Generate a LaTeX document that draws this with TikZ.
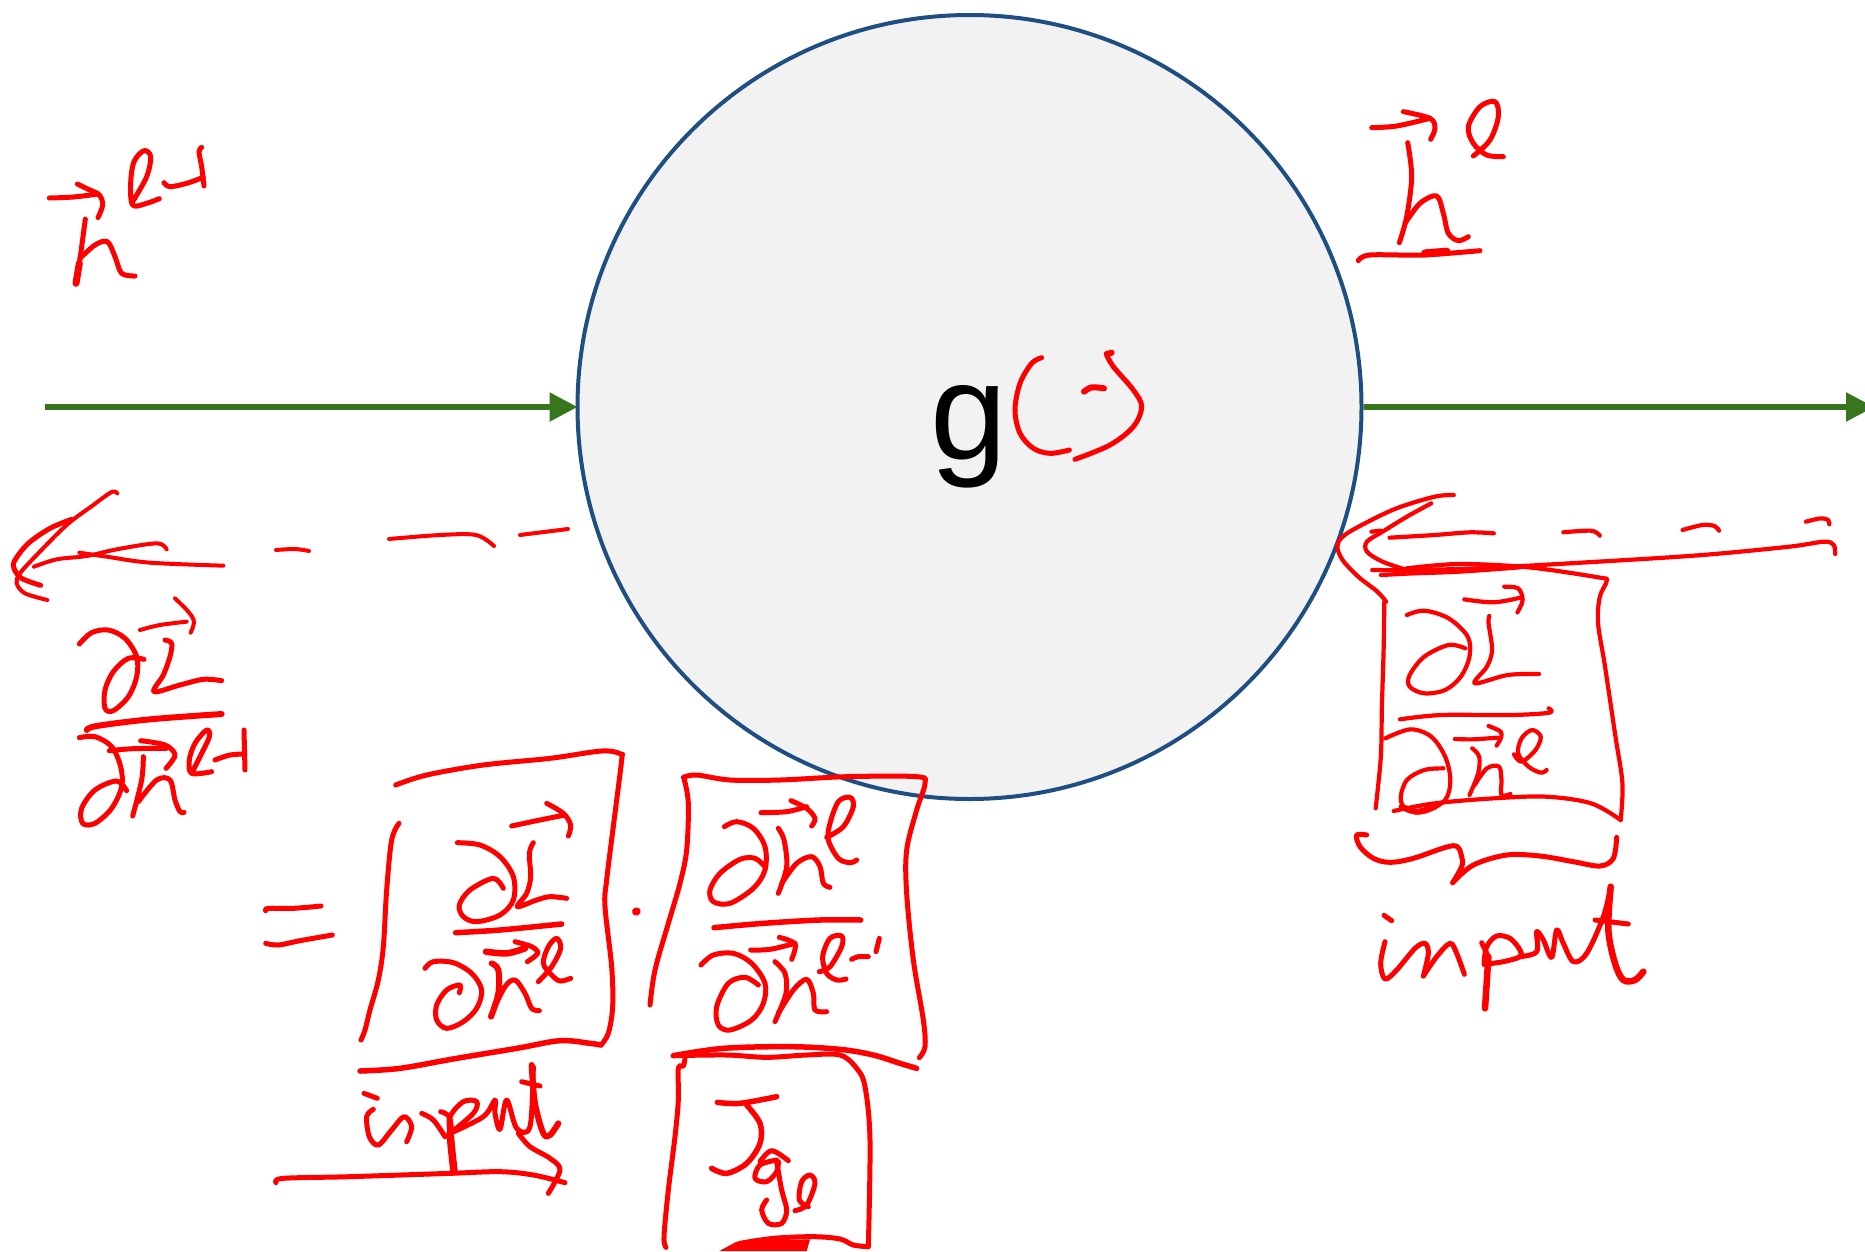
\documentclass[tikz,border=0pt]{standalone}
\usepackage{fontspec}
\setmainfont{Liberation Sans}
\usetikzlibrary{arrows.meta}
\definecolor{ink}{RGB}{255,0,0}
\definecolor{ringblue}{RGB}{31,78,131}
\definecolor{ringfill}{RGB}{242,242,242}
\definecolor{flow}{RGB}{56,118,29}
\tikzset{
  ring/.style={circle,draw=ringblue,fill=ringfill,line width=4pt,minimum size=784pt,inner sep=0pt},
  flowline/.style={draw=flow,line width=5.5pt,-{Triangle[length=28pt,width=28pt]},shorten >=-2pt},
  inkline/.style={draw=ink,line width=5pt,line cap=round,line join=round},
  crop/.style n args={2}{x=.33333pt,y=-.33333pt,xshift=#1pt,yshift=-#2pt}
}
\newcommand\ink[2][]{\draw[inkline,#1] plot[smooth,tension=.55] coordinates {#2};}
\begin{document}
\begin{tikzpicture}[x=1pt,y=-1pt]
\useasboundingbox (0,0) rectangle (1865,1251);
\node[ring] (gate) at (969.5,407) {};
\coordinate (inA) at (45,407);
\coordinate (outB) at (1872,407);
\draw[flowline] (inA) -- (gate.west);
\draw[flowline] (gate.east) -- (outB);
\node[anchor=base,inner sep=0pt,font=\fontsize{138}{138}\selectfont] (gtext) at (969,459) {g};

% h^{l-1}
\begin{scope}[crop={0}{120}]
\ink{(148,234)(220,231)(295,222)}
\ink{(232,192)(265,208)(298,225)(308,255)(294,293)}
\ink{(256,297)(245,380)(238,430)(228,490)}
\ink[line width=7pt]{(238,430)(228,490)}
\ink{(240,415)(285,375)(322,365)(345,410)(365,460)(405,468)}
\ink{(398,245)(440,170)(452,110)(432,92)(402,125)(392,190)(398,255)(440,250)(478,236)}
\ink{(492,188)(510,200)(560,190)(610,172)}
\ink{(605,82)(597,95)(605,140)(612,198)}
\end{scope}

% left dashed back arrow and fraction
\begin{scope}[crop={0}{480}]
\ink[line width=4pt]{(352,40)(335,36)(280,75)(200,135)(110,225)(60,280)(50,310)(75,340)(142,360)}
\ink{(215,118)(150,145)(85,190)(45,240)(42,265)(65,295)(122,316)}
\ink[line width=4pt]{(102,260)(170,238)(260,228)(350,208)(470,190)(500,208)}
\ink[line width=4pt]{(238,218)(320,230)(450,248)(670,257)}
\ink{(238,492)(275,458)(325,450)(375,475)(410,530)(410,590)(385,650)(340,692)(315,685)(315,630)(340,575)(385,535)(432,538)}
\ink[line width=4pt]{(420,450)(480,435)(560,425)}
\ink[line width=4pt]{(525,355)(565,395)(582,425)(572,458)}
\ink{(495,480)(515,490)(510,530)(490,585)(462,635)(540,615)(610,598)(665,602)}
\ink[line width=6pt]{(260,750)(290,738)(450,718)(665,702)}
\ink{(238,773)(285,770)(335,800)(362,860)(365,920)(335,985)(285,1030)(248,1030)(245,985)(285,930)(350,903)(380,932)}
\ink{(328,812)(400,806)(500,805)}
\ink{(422,782)(495,795)(525,825)(498,865)}
\ink{(430,830)(425,900)(398,1008)}
\ink{(415,965)(470,900)(510,900)(525,960)(540,995)(552,997)}
\ink{(575,880)(600,830)(628,770)(620,750)(585,790)(568,840)(575,880)(635,875)}
\ink{(645,840)(690,825)(735,822)}
\ink{(732,750)(735,870)}
\end{scope}
\ink[line width=4pt]{(276,550)(295,549)(309,551)}
\ink[line width=4pt]{(389,539)(440,535)(476,535)(494,546)}
\ink[line width=4pt]{(520,535)(568,529)}

% equals and first box
\begin{scope}[crop={250}{740}]
\ink{(47,512)(55,505)(130,505)(213,498)}
\ink{(47,610)(85,615)(150,602)(247,585)}
\ink{(437,135)(530,105)(700,75)(900,55)(1055,33)(1112,42)(1115,60)(1095,220)(1070,420)(1065,500)(1085,680)(1088,800)(1075,880)(1053,915)}
\ink{(447,250)(425,300)(410,450)(400,620)(385,720)(360,810)(345,870)(333,900)}
\ink{(622,308)(690,315)(750,350)(790,410)(790,480)(750,525)(680,545)(640,530)(628,495)(660,450)(730,415)(760,445)}
\ink{(785,258)(860,242)(945,225)}
\ink{(890,190)(940,220)(962,255)(955,288)}
\ink{(850,308)(838,340)(842,410)(830,460)(802,500)(860,480)(900,470)(950,475)}
\ink[line width=5.5pt]{(617,578)(750,570)(935,552)}
\end{scope}
\begin{scope}[crop={410}{920}]
\ink{(45,145)(70,125)(130,128)(185,160)(215,210)(200,265)(160,305)(110,325)(80,300)(80,255)(110,210)(150,195)(148,218)}
\ink[line width=6.5pt]{(228,95)(290,100)(345,85)}
\ink{(315,65)(365,80)(383,100)(352,125)}
\ink[line width=6pt]{(245,130)(265,150)(265,220)(243,290)}
\ink{(250,270)(285,200)(315,180)(345,220)(365,265)(388,272)}
\ink{(385,185)(425,140)(452,85)(440,55)(415,80)(400,130)(425,165)(450,183)(482,175)}
\end{scope}

% underline and "input" below first box
\begin{scope}[crop={250}{1030}]
\ink[line width=5.5pt]{(330,123)(450,115)(620,85)(800,55)(930,32)(1020,40)(1053,45)}
\ink{(342,190)(382,205)}
\ink{(370,238)(350,260)(358,320)(385,345)(425,300)(462,260)(485,290)(470,335)}
\ink{(515,250)(550,270)(585,320)}
\ink{(572,245)(600,265)(605,350)}
\ink[line width=7.5pt]{(600,310)(605,360)(612,425)}
\ink{(600,310)(600,260)(640,215)(680,215)(670,250)(600,310)}
\ink{(600,310)(700,260)(735,210)(735,250)(750,298)(770,210)(800,295)(840,290)(850,110)}
\ink[line width=6pt]{(845,105)(855,220)(880,310)(900,315)(925,280)}
\ink{(815,155)(870,168)}
\ink{(78,458)(100,445)(300,440)(600,430)(750,425)(850,435)(945,458)}
\ink{(805,310)(840,350)(900,385)(930,420)(895,490)}
\end{scope}

% second box
\begin{scope}[crop={630}{760}]
\ink{(160,52)(200,45)(300,60)(450,60)(650,50)(860,50)(885,70)(860,150)(830,270)(830,400)(850,600)(880,780)(885,860)(868,893)}
\ink{(163,60)(175,130)(170,270)(150,370)(115,490)(75,630)(60,735)}
\ink[line width=8pt]{(18,455)(20,454)}
\ink{(283,200)(320,185)(370,205)(405,260)(405,330)(370,385)(300,430)(250,425)(240,390)(270,340)(330,298)(375,295)(405,320)}
\ink{(393,158)(470,155)(530,140)}
\ink{(483,122)(530,145)(555,175)(545,198)}
\ink{(445,205)(462,240)(470,320)(445,400)}
\ink{(455,370)(500,310)(545,290)(570,320)(580,370)(600,382)}
\ink{(590,232)(640,200)(670,140)(660,112)(625,125)(600,190)(595,240)(625,295)(660,308)(680,300)}
\ink[line width=5.5pt]{(252,503)(400,490)(570,480)(692,480)}
\ink{(213,615)(250,585)(310,580)(365,610)(405,670)(400,730)(365,780)(300,810)(265,795)(260,740)(295,670)(345,652)(385,675)}
\ink{(362,570)(420,568)(495,550)}
\ink{(448,532)(495,552)(485,598)}
\ink{(435,605)(465,640)(468,700)(435,785)}
\ink{(445,760)(490,690)(530,658)(550,700)(555,750)(590,755)}
\ink{(568,635)(600,620)(635,560)(635,528)(600,535)(578,590)(590,640)(620,660)(648,657)}
\ink{(665,598)(685,590)(715,590)}
\ink{(748,535)(738,575)}
\end{scope}

% J box
\begin{scope}[crop={640}{1040}]
\ink[line width=5.5pt]{(100,47)(250,25)(450,20)(600,28)(700,45)(780,70)(830,85)}
\ink{(135,55)(130,78)(115,85)(115,180)(105,290)(85,450)(72,590)(78,622)}
\ink{(100,47)(260,45)(380,52)(500,45)(600,45)(650,85)(675,140)(690,300)(685,620)}
\ink{(300,610)(400,595)(520,590)(600,597)(640,615)(685,620)}
\fill[ink] (238,633) -- (290,605) -- (420,600) -- (510,598) -- (500,633) -- cycle;
\ink[line width=5.5pt]{(232,187)(300,190)(410,170)}
\ink[line width=5.5pt]{(320,195)(360,250)(360,310)(320,370)(260,400)(215,385)}
\ink{(360,365)(395,332)(445,362)}
\ink{(410,360)(360,375)(345,415)(380,425)(410,395)(415,365)}
\ink{(410,365)(425,450)(440,510)(425,550)(385,550)(365,510)(380,480)}
\ink{(465,512)(500,495)(525,430)(510,405)(485,425)(478,480)(505,500)}
\end{scope}

% right dashed back arrow and boxed fraction
\begin{scope}[x=.3476pt,y=-.33333pt,xshift=1320pt,yshift=-490pt,inkline/.append style={line width=4.2pt}]
\ink{(385,15)(330,20)(220,55)(120,105)(65,140)(50,170)(65,210)(110,260)(165,305)(190,335)}
\ink{(320,40)(250,80)(180,125)(135,155)(135,185)(180,215)(250,240)}
\ink{(148,125)(175,122)}
\ink{(200,143)(330,135)(430,127)(500,130)}
\ink{(700,127)(780,122)(805,137)}
\ink{(1043,120)(1100,105)(1135,108)(1148,122)}
\ink{(1398,95)(1440,85)(1462,90)(1465,103)}
\ink{(150,240)(250,240)(450,235)(800,215)(1100,195)(1350,170)(1450,155)(1478,165)(1482,192)}
\ink{(250,235)(400,222)(600,232)(800,262)(825,272)(805,320)(800,400)(820,530)(850,740)(870,880)(865,990)}
\ink{(175,255)(270,250)(400,245)(575,232)}
\ink{(212,963)(330,940)(500,925)(650,920)(780,940)(865,990)}
\ink{(185,335)(183,480)(178,650)(175,800)(160,955)}
\ink{(250,375)(300,362)(370,385)(425,440)(430,500)(405,560)(360,600)(300,610)(258,590)(258,555)(300,500)(370,465)(418,475)}
\ink{(415,328)(500,337)(580,322)}
\ink{(530,290)(570,295)(583,330)(568,367)}
\ink{(487,378)(485,400)(495,480)(480,530)(445,580)(540,555)(630,552)}
\ink{(230,688)(350,675)(550,675)(660,668)(658,655)}
\ink{(188,745)(260,718)(320,740)(360,800)(375,870)(360,930)(300,965)(250,960)(232,925)(250,870)(300,840)(355,835)}
\ink{(388,747)(440,748)(510,743)}
\ink{(485,708)(520,725)(520,745)(508,767)}
\ink{(438,775)(458,800)(455,850)(430,915)}
\ink{(445,885)(480,835)(515,830)(522,870)(522,915)(548,912)}
\ink{(558,793)(580,815)(620,780)(635,740)(610,720)(580,745)(570,790)(600,830)(635,848)(652,840)}
\ink[line width=6pt]{(235,950)(280,965)(330,950)}
\end{scope}

% brace and "input" on the right
\begin{scope}[crop={1340}{830}]
\ink{(80,15)(50,15)(60,50)(100,85)(150,97)(220,85)(340,47)(365,80)(365,110)(338,158)}
\ink{(338,158)(400,105)(500,75)(600,78)(700,95)(780,108)(820,85)(830,22)}
\ink{(132,256)(155,272)}
\ink{(135,335)(122,400)(135,447)(170,420)(225,355)(255,340)(265,370)(250,438)}
\ink{(250,438)(290,380)(330,340)(350,370)(373,433)}
\ink{(425,338)(445,380)}
\ink[line width=6.5pt]{(445,380)(440,460)(435,535)}
\ink{(432,403)(440,350)(470,318)(510,325)(540,360)(540,380)(490,395)(432,403)}
\ink{(540,380)(590,365)(590,305)(610,330)(635,382)(650,300)(670,340)(700,395)(740,370)(790,260)(812,170)}
\ink[line width=6.5pt]{(812,170)(805,300)(825,400)(850,450)(885,450)(910,425)}
\ink{(765,270)(865,282)}
\end{scope}

% h^l top right
\begin{scope}[crop={1340}{90}]
\ink{(95,113)(170,108)(270,85)}
\ink{(190,65)(270,85)(285,115)(272,148)}
\ink{(203,158)(215,260)(200,380)(178,458)}
\ink{(195,400)(240,340)(290,318)(310,370)(325,430)(355,452)(385,440)}
\ink{(400,198)(450,150)(475,80)(465,35)(420,50)(385,110)(400,160)(440,195)(490,200)}
\ink{(55,512)(90,495)(250,495)(420,482)}
\ink[line width=8pt]{(255,490)(320,485)}
\end{scope}

% handwritten (.) in the circle
\begin{scope}[crop={910}{330}]
\ink{(395,83)(365,100)(330,160)(315,240)(330,310)(370,355)(420,370)(478,360)}
\ink[line width=6pt]{(522,185)(545,172)(582,175)}
\ink[line width=6pt]{(590,72)(605,68)}
\ink{(590,75)(610,110)(670,180)(695,230)(670,290)(600,345)(495,388)}
\end{scope}
\end{tikzpicture}
\end{document}
